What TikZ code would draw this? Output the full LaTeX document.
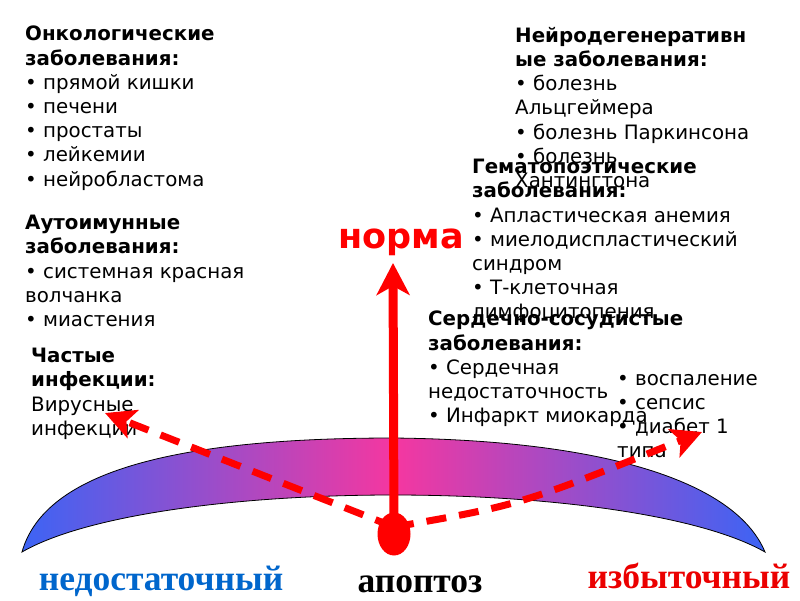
\documentclass[tikz,border=0pt]{standalone}
\usepackage{fontspec}
\setmainfont{DejaVu Sans}
\newfontfamily\serifbold{Liberation Serif}
\usetikzlibrary{arrows.meta,shapes.geometric}
\definecolor{crblue}{RGB}{60,100,245}
\definecolor{crpink}{RGB}{245,55,160}
\definecolor{lblblue}{RGB}{0,102,204}
\definecolor{arred}{RGB}{255,0,0}
\definecolor{lblred}{RGB}{235,0,0}
\begin{document}
\begin{tikzpicture}[x=1pt,y=-1pt,
  block/.style={anchor=north west, inner sep=0pt, align=left, font=\fontsize{19.8}{24.2}\selectfont},
  dashline/.style={draw=arred, line width=7pt, dash pattern=on 20pt off 13pt},
  biglabel/.style={anchor=base, inner sep=0pt, font=\serifbold\bfseries\fontsize{35.5}{40}\selectfont}]
\useasboundingbox[fill=white] (0,0) rectangle (800,600);

% crescent
\shadedraw[left color=crblue, right color=crblue, middle color=crpink, draw=black, line width=0.8pt]
  (22,552) .. controls (45,470) and (180,438) .. (393,438)
  .. controls (600,440) and (735,480) .. (765,552)
  .. controls (700,515) and (550,495) .. (393,495)
  .. controls (236,495) and (86,515) .. (22,552) -- cycle;

% text blocks
\node[block] (onco) at (25,26) {\textbf{Онкологические}\\\textbf{заболевания:}\\• прямой кишки\\• печени\\• простаты\\• лейкемии\\• нейробластома};
\node[block] (auto) at (25,215) {\textbf{Аутоимунные}\\\textbf{заболевания:}\\• системная красная\\волчанка\\• миастения};
\node[block] (infec) at (31,348) {\textbf{Частые}\\\textbf{инфекции:}\\Вирусные\\инфекции};
\node[block] (neuro) at (515,27) {\textbf{Нейродегенеративн}\\\textbf{ые заболевания:}\\• болезнь\\Альцгеймера\\• болезнь Паркинсона\\• болезнь\\Хантингтона};
\node[block] (hemat) at (472,159) {\textbf{Гематопоэтические}\\\textbf{заболевания:}\\• Апластическая анемия\\• миелодиспластический\\синдром\\• Т-клеточная\\лимфоцитопения};
\node[block] (cardio) at (428,311) {\textbf{Сердечно-сосудистые}\\\textbf{заболевания:}\\• Сердечная\\недостаточность\\• Инфаркт миокарда};
\node[block] (inflam) at (617,374) {• воспаление\\• сепсис\\• диабет 1\\типа};

% labels
\node[font=\bfseries\fontsize{35}{40}\selectfont, text=arred, anchor=base, inner sep=0pt] (norma) at (401,248) {норма};
\node[biglabel, text=lblblue] (nedo) at (161,590) {недостаточный};
\node[biglabel, text=black] (apop) at (420,592) {апоптоз};
\node[biglabel, text=lblred] (izb) at (689,588) {избыточный};

% arrows
\coordinate (origin) at (394,527);
\coordinate (uptip) at (393,263);
\coordinate (ltip) at (105,413);
\coordinate (rtip) at (702,432);
\draw[dashline, -{Stealth[length=30pt, width=30pt, inset=7pt]}] (origin) -- (ltip);
\draw[dashline, -{Stealth[length=30pt, width=30pt, inset=7pt]}] (origin) .. controls (520,505) .. (rtip);
\draw[arred, line width=9pt, -{Stealth[length=32pt, width=33pt, inset=9pt]}] (origin) -- (uptip);
\node[ellipse, fill=arred, minimum width=33pt, minimum height=43pt, inner sep=0pt] (ball) at (394,534) {};
\end{tikzpicture}
\end{document}
